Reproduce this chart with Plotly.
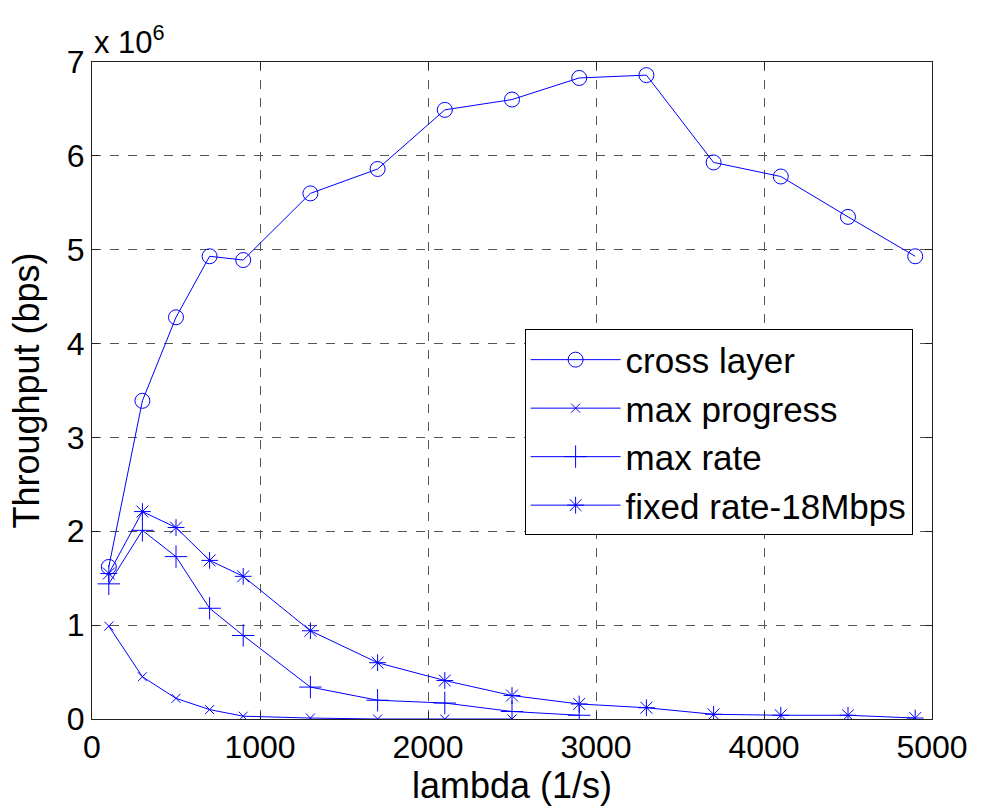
import plotly.graph_objects as go

# Arrival rate (1/s)
lam = [100, 300, 500, 700, 900, 1300, 1700, 2100, 2500, 2900, 3300, 3700, 4100, 4500, 4900]

# Throughput in units of 1e6 bps
cross_layer = [1.62, 3.39, 4.28, 4.93, 4.89, 5.60, 5.86, 6.49, 6.60, 6.83, 6.86, 5.93, 5.78, 5.35, 4.93]
max_progress = [0.99, 0.45, 0.22, 0.10, 0.03, 0.01, 0.0, 0.0, 0.0]
max_rate = [1.44, 2.01, 1.73, 1.18, 0.89, 0.34, 0.20, 0.17, 0.08, 0.04]
fixed_rate = [1.55, 2.21, 2.04, 1.69, 1.52, 0.94, 0.60, 0.41, 0.25, 0.16, 0.12, 0.05, 0.04, 0.04, 0.01]

series_names = ["cross layer", "max progress", "max rate", "fixed rate-18Mbps"]

x_ticks = [0, 1000, 2000, 3000, 4000, 5000]
y_ticks = [0, 1, 2, 3, 4, 5, 6, 7]

BLUE = "#0000FF"
FONT = "Liberation Sans, Arial, sans-serif"

fig = go.Figure()

fig.add_trace(go.Scatter(
    x=lam, y=cross_layer, name=series_names[0], mode="lines+markers",
    line=dict(color=BLUE, width=1),
    marker=dict(symbol="circle-open", size=15, color=BLUE, line=dict(width=1, color=BLUE)),
))
fig.add_trace(go.Scatter(
    x=lam[:len(max_progress)], y=max_progress, name=series_names[1], mode="lines+markers",
    line=dict(color=BLUE, width=1),
    marker=dict(symbol="x-thin-open", size=9, color=BLUE, line=dict(width=1, color=BLUE)),
))
fig.add_trace(go.Scatter(
    x=lam[:len(max_rate)], y=max_rate, name=series_names[2], mode="lines+markers",
    line=dict(color=BLUE, width=1),
    marker=dict(symbol="cross-thin-open", size=16, color=BLUE, line=dict(width=1, color=BLUE)),
))
fig.add_trace(go.Scatter(
    x=lam, y=fixed_rate, name=series_names[3], mode="lines+markers",
    line=dict(color=BLUE, width=1),
    marker=dict(symbol="asterisk-open", size=14, color=BLUE, line=dict(width=1, color=BLUE)),
))

axis_common = dict(
    showgrid=True, gridcolor="#555555", griddash="dash", gridwidth=1,
    showline=True, linecolor="#222222", linewidth=1, mirror="ticks",
    ticks="inside", ticklen=7, tickcolor="#222222",
    zeroline=False, automargin=False,
    tickfont=dict(family=FONT, size=32, color="black"),
)

fig.update_xaxes(
    range=[0, 5000], tickvals=x_ticks, ticktext=[str(v) for v in x_ticks],
    title=dict(text="lambda (1/s)", font=dict(family=FONT, size=36, color="black"), standoff=2),
    **axis_common,
)
fig.update_yaxes(
    range=[0, 7], tickvals=y_ticks, ticktext=[str(v) for v in y_ticks],
    title=dict(text="Throughput (bps)", font=dict(family=FONT, size=36, color="black"), standoff=16),
    **axis_common,
)

fig.add_annotation(
    text="x 10<sup>6</sup>", xref="paper", yref="paper", x=0.0, y=1.0,
    xanchor="left", yanchor="bottom", showarrow=False, yshift=0,
    font=dict(family=FONT, size=31, color="black"),
)

fig.update_layout(
    width=981, height=809,
    margin=dict(l=92, r=49, t=62, b=90),
    paper_bgcolor="white", plot_bgcolor="white",
    showlegend=True,
    legend=dict(
        x=0.515, y=0.593, xanchor="left", yanchor="top",
        bgcolor="white", bordercolor="black", borderwidth=1,
        font=dict(family=FONT, size=35, color="black"),
        itemwidth=90, tracegroupgap=0,
    ),
)

fig.write_html("out.html")
